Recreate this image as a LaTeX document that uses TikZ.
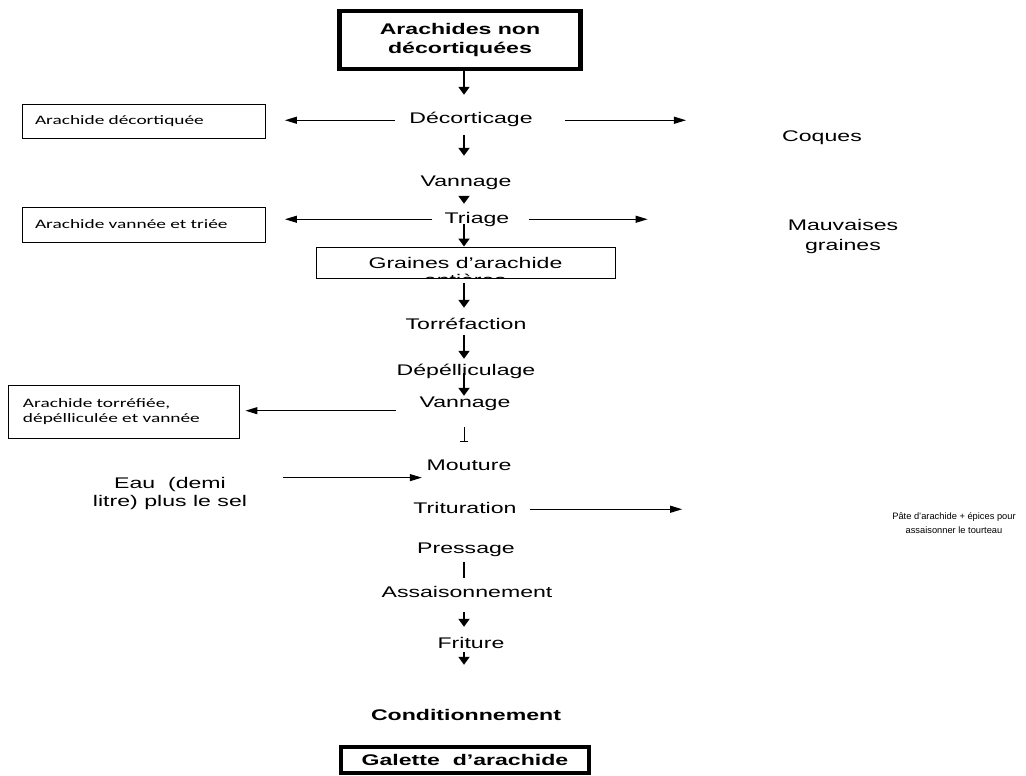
\documentclass[tikz,border=0pt]{standalone}
\usepackage{fontspec}
\setmainfont{Liberation Sans}
\newfontfamily\arialx[FakeStretch=1.5]{Liberation Sans}
\newfontfamily\calibx[FakeStretch=1.5]{Carlito}
\newfontfamily\arialn{Liberation Sans}
\usetikzlibrary{arrows.meta}

\tikzset{
  etape/.style={font=\arialx\fontsize{15.4}{19}\selectfont, inner sep=0pt, text height=11pt, text depth=3.5pt, anchor=base},
  texte/.style={font=\arialx\fontsize{15.4}{19}\selectfont, inner sep=0pt, align=center},
  grosbox/.style={draw, line width=4.5pt, font=\arialx\bfseries\fontsize{15.4}{18.5}\selectfont, align=center, inner sep=0pt},
  sbox/.style={draw, line width=0.9pt, font=\calibx\fontsize{12.9}{15}\selectfont, align=left, inner xsep=13pt, inner ysep=0pt},
  fleche/.style={-{Triangle[length=8pt, width=11pt]}, line width=1.8pt},
  flecheh/.style={-{Triangle[length=12pt, width=7pt]}, line width=1.1pt}
}

\begin{document}
\begin{tikzpicture}[x=1pt, y=-1pt]
\useasboundingbox (0,0) rectangle (1026,776);
\coordinate (axe) at (464,0);
% Produit de départ
\node[grosbox, minimum width=241pt, minimum height=58pt] (arach) at (460,40) {Arachides non\\décortiquées};
% Étapes du procédé
\node[etape] (decort) at (471,124) {Décorticage};
\node[etape] (vann1) at (466,186) {Vannage};
\node[etape] (triage) at (477,223) {Triage};
\node[draw, line width=0.9pt, font=\arialx\fontsize{15.4}{19}\selectfont, minimum width=299pt, minimum height=31pt, inner sep=0pt] (graines) at (465.5,262.5) {Graines d’arachide};
\begin{scope}
\clip (graines.south west) rectangle (graines.north east);
\node[etape] (entieres) at (465,285.5) {entières};
\end{scope}
\node[etape] (torref) at (466,329) {Torréfaction};
\node[etape] (depel) at (466,375) {Dépélliculage};
\node[etape] (vann2) at (465,407) {Vannage};
\node[etape] (mout) at (469,470) {Mouture};
\node[etape] (trit) at (465,513) {Trituration};
\node[etape] (press) at (466,553) {Pressage};
\node[etape] (assais) at (467,597) {Assaisonnement};
\node[etape] (frit) at (471,648) {Friture};
\node[etape, font=\arialx\bfseries\fontsize{15.4}{19}\selectfont] (cond) at (466,720) {Conditionnement};
% Produit fini
\node[grosbox, line width=4pt, minimum width=248pt, minimum height=26pt] (galette) at (465,760) {Galette~~d’arachide};
% Sous-produits à gauche
\node[sbox, text width=217pt, minimum height=34pt] (bdecort) at (143.5,121) {Arachide décortiquée};
\node[sbox, text width=217pt, minimum height=35pt] (btriage) at (143.5,224.5) {Arachide vannée et triée};
\node[sbox, inner xsep=15pt, text width=201pt, minimum height=53pt] (bvann) at (123.5,411.5) {Arachide torréfiée,\\dépélliculée et vannée};
\node[texte, font=\arialx\fontsize{15.4}{18}\selectfont] (eau) at (170,494) {Eau~~(demi\\litre) plus le sel};
% Sous-produits à droite
\node[etape] (coques) at (822,141) {Coques};
\node[texte, font=\arialx\fontsize{15.4}{20}\selectfont] (mauv) at (843,237) {Mauvaises\\graines};
\node[texte, font=\arialn\fontsize{9.3}{14}\selectfont] (pate) at (954,523) {Pâte d’arachide + épices pour\\assaisonner le tourteau};
% Flèches verticales
\draw[fleche, shorten >=18pt] (arach.south -| axe) -- (decort.north -| axe);
\draw[fleche, shorten <=7.5pt, shorten >=19pt] (decort.south -| axe) -- (vann1.north -| axe);
\draw[fleche, shorten <=6.5pt, shorten >=8pt] (vann1.south -| axe) -- (triage.north -| axe);
\draw[fleche, shorten <=1pt] (triage.base -| axe) -- (graines.north -| axe);
\draw[fleche, shorten <=5pt, shorten >=10pt] (graines.south -| axe) -- (torref.north -| axe);
\draw[fleche, shorten <=2.5pt, shorten >=5pt] (torref.south -| axe) -- (depel.north -| axe);
\draw[fleche, shorten <=1.75pt] (depel.center -| axe) -- (vann2.north -| axe);
\draw[-{Bar[width=8pt]}, line width=0.9pt, shorten <=16.5pt, shorten >=17pt] (vann2.south -| axe) -- (mout.north -| axe);
\draw[line width=1.3pt, shorten <=5.5pt, shorten >=8pt] (press.south -| axe) -- (assais.north -| axe);
\draw[fleche, shorten <=11.5pt, shorten >=10pt] (assais.south -| axe) -- (frit.north -| axe);
\draw[fleche, shorten <=0.5pt, shorten >=44pt] (frit.south -| axe) -- (cond.north -| axe);
% Flèches horizontales
\draw[flecheh, shorten <=14.5pt, shorten >=19.5pt] (decort.west) -- (decort.west -| bdecort.east);
\draw[flecheh, shorten <=32.5pt, shorten >=96pt] (decort.east) -- (decort.east -| coques.west);
\draw[flecheh, shorten <=12pt, shorten >=19.5pt] (triage.west) -- (triage.west -| btriage.east);
\draw[flecheh, shorten <=19pt, shorten >=140pt] (triage.east) -- (triage.east -| mauv.west);
\draw[flecheh, shorten <=23.75pt, shorten >=6pt] (vann2.south west) -- (vann2.south west -| bvann.east);
\draw[flecheh, shorten <=36pt, shorten >=4.6pt] (eau.north east) -- (eau.north east -| mout.west);
\draw[flecheh, shorten <=13pt, shorten >=210pt] (trit.east) -- (trit.east -| pate.west);
\end{tikzpicture}
\end{document}
